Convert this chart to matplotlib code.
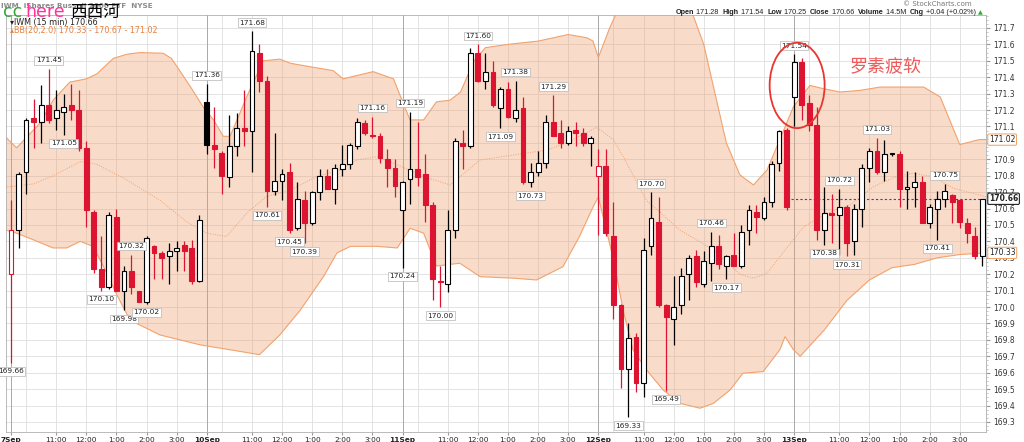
import numpy as np
import matplotlib
matplotlib.use("Agg")
import matplotlib.pyplot as plt
import matplotlib.transforms as mtransforms
from matplotlib.patches import Rectangle, Ellipse
from matplotlib.ticker import MultipleLocator, FuncFormatter

# 15-minute bars, 26 per session, 7 Sep - 13 Sep
opens = [170.20, 170.47, 170.82, 171.15, 171.13, 171.23, 171.15, 171.19, 171.23, 171.20,
         170.97, 170.58, 170.23, 170.12, 170.55, 170.10, 170.22, 170.10, 170.03, 170.37,
         170.33, 170.31, 170.34, 170.38, 170.36, 170.16,
         171.25, 170.99, 170.94, 170.79, 170.98, 171.09, 171.07, 171.55, 171.38, 170.71,
         170.77, 170.82, 170.48, 170.65, 170.51, 170.70, 170.80, 170.72, 170.84, 170.87,
         170.98, 171.12, 171.05, 171.04, 170.90, 170.85,
         170.59, 170.78, 170.84, 170.81, 170.62, 170.16, 170.14, 170.47, 171.00, 170.98,
         171.55, 171.38, 171.43, 171.21, 171.33, 171.15, 171.21, 170.76, 170.82, 170.88,
         171.13, 171.06, 171.00, 171.08, 171.06, 171.00,
         170.80, 170.86, 170.43, 170.01, 169.62, 169.82, 169.54, 170.37, 170.52, 170.01,
         169.93, 170.01, 170.20, 170.31, 170.14, 170.27, 170.37, 170.25, 170.32, 170.25,
         170.47, 170.58, 170.54, 170.64, 170.88, 171.08,
         171.28, 171.49, 171.24, 171.11, 170.47, 170.57, 170.56, 170.61, 170.40, 170.60,
         170.85, 170.95, 170.82, 170.93, 170.93, 170.72, 170.73, 170.76, 170.51, 170.60,
         170.66, 170.68, 170.65, 170.51, 170.43, 170.31]
highs = [170.65, 170.82, 171.15, 171.27, 171.35, 171.45, 171.32, 171.30, 171.36, 171.32,
         171.01, 170.59, 170.43, 170.58, 170.60, 170.25, 170.32, 170.10, 170.43, 170.38,
         170.34, 170.39, 170.40, 170.40, 170.41, 170.56,
         171.36, 171.22, 170.95, 171.17, 171.18, 171.32, 171.68, 171.60, 171.41, 171.06,
         170.84, 170.88, 170.76, 170.71, 170.71, 170.84, 170.84, 170.87, 170.99, 171.00,
         171.15, 171.14, 171.16, 171.06, 170.96, 170.90,
         170.77, 171.19, 171.13, 170.93, 170.64, 170.25, 170.59, 171.03, 171.08, 171.58,
         171.60, 171.55, 171.50, 171.34, 171.37, 171.38, 171.28, 170.88, 170.95, 171.17,
         171.29, 171.14, 171.10, 171.13, 171.09, 171.04,
         170.96, 170.96, 170.64, 170.02, 169.90, 169.84, 170.42, 170.70, 170.67, 170.02,
         170.19, 170.24, 170.32, 170.35, 170.34, 170.46, 170.44, 170.32, 170.45, 170.50,
         170.62, 170.62, 170.67, 170.89, 171.08, 171.09,
         171.54, 171.52, 171.29, 171.22, 170.73, 170.69, 170.72, 170.62, 170.63, 170.87,
         170.97, 171.03, 171.02, 170.94, 170.95, 170.83, 170.82, 170.80, 170.63, 170.71,
         170.75, 170.69, 170.66, 170.54, 170.49, 170.66]
lows = [169.66, 170.36, 170.69, 170.97, 171.00, 171.12, 171.08, 171.05, 171.14, 170.95,
        170.49, 170.21, 170.10, 170.11, 170.10, 169.98, 170.08, 170.03, 170.02, 170.17,
        170.17, 170.14, 170.22, 170.22, 170.14, 170.15,
        170.93, 170.85, 170.69, 170.73, 170.92, 170.98, 170.82, 171.31, 170.61, 170.68,
        170.65, 170.45, 170.47, 170.39, 170.50, 170.65, 170.72, 170.63, 170.80, 170.84,
        170.96, 171.05, 171.03, 170.88, 170.73, 170.67,
        170.24, 170.63, 170.74, 170.52, 170.04, 170.00, 170.09, 170.42, 170.84, 170.97,
        171.37, 171.33, 171.22, 171.09, 171.15, 171.13, 170.75, 170.73, 170.80, 170.85,
        171.04, 170.97, 170.99, 170.98, 170.98, 170.86,
        170.44, 170.43, 169.93, 169.51, 169.33, 169.48, 169.45, 170.32, 170.00, 169.49,
        169.77, 169.96, 170.04, 170.12, 170.12, 170.16, 170.23, 170.17, 170.25, 170.24,
        170.38, 170.45, 170.53, 170.61, 170.83, 170.59,
        171.10, 171.14, 171.07, 170.41, 170.38, 170.39, 170.32, 170.31, 170.32, 170.49,
        170.76, 170.81, 170.77, 170.92, 170.61, 170.60, 170.61, 170.51, 170.48, 170.41,
        170.61, 170.51, 170.48, 170.39, 170.29, 170.25]
closes = [170.47, 170.81, 171.14, 171.13, 171.23, 171.14, 171.20, 171.22, 171.20, 170.97,
          170.59, 170.23, 170.12, 170.56, 170.10, 170.22, 170.12, 170.03, 170.42, 170.33,
          170.30, 170.34, 170.36, 170.34, 170.16, 170.53,
          170.99, 170.96, 170.80, 170.98, 171.09, 171.07, 171.56, 171.38, 170.71, 170.77,
          170.81, 170.47, 170.66, 170.51, 170.70, 170.80, 170.72, 170.85, 170.87, 170.99,
          171.13, 171.06, 171.04, 170.91, 170.85, 170.74,
          170.76, 170.84, 170.79, 170.62, 170.17, 170.15, 170.47, 171.01, 170.98, 171.55,
          171.38, 171.43, 171.23, 171.33, 171.16, 171.20, 170.76, 170.82, 170.88, 171.13,
          171.04, 171.00, 171.07, 171.06, 171.00, 171.03,
          170.86, 170.45, 170.01, 169.62, 169.81, 169.54, 170.35, 170.54, 170.01, 169.94,
          170.00, 170.19, 170.30, 170.15, 170.28, 170.37, 170.26, 170.31, 170.25, 170.46,
          170.59, 170.55, 170.64, 170.87, 171.07, 170.61,
          171.49, 171.23, 171.11, 170.47, 170.57, 170.56, 170.61, 170.39, 170.60, 170.85,
          170.95, 170.82, 170.93, 170.94, 170.72, 170.73, 170.76, 170.51, 170.61, 170.66,
          170.71, 170.64, 170.52, 170.45, 170.31, 170.66]
prev_close0 = 170.55

high_labels = [5, 16, 26, 32, 48, 53, 62, 67, 72, 85, 93, 104, 110, 115, 124]
low_labels = [0, 7, 12, 15, 18, 34, 37, 39, 52, 57, 65, 69, 82, 87, 95, 108, 111, 123]

days = ["7Sep", "10Sep", "11Sep", "12Sep", "13Sep"]
hour_labels = ["", "11:00", "12:00", "1:00", "2:00", "3:00"]
hour_times = [10, 11, 12, 13, 14, 15]
bars_per_day = 26

# Bollinger bands (20, 2.0)
upper_n = [-0.8, 0.75, 3.85, 5.6, 7.8, 10, 11.4, 13.6, 15.4, 17.1, 20.2, 21.3, 22.7, 24, 25.5,
           26.9, 28.2, 29.1, 31.3, 33.5, 35.7, 37.1, 39.7, 42.8, 44.1, 45.9, 48.1, 50.8,
           52.1, 53.0, 54.8, 56.5, 58.3, 59.7, 61.5, 63, 66, 70, 74, 76.5, 77.3, 78, 79.5,
           81, 90, 92, 95, 96.8, 98.6, 100.4, 102.1, 103.9, 106.1, 107.9, 110.1, 112.8,
           115.4, 121.2, 123.4, 125.1, 126, 128.6, 129.6]
upper_v = [171.04, 170.97, 171.12, 171.26, 171.37, 171.39, 171.42, 171.515, 171.54, 171.55,
           171.546, 171.515, 171.42, 171.33, 171.22, 171.14, 171.04, 171.04, 171.28, 171.50,
           171.51, 171.485, 171.464, 171.44, 171.39, 171.41, 171.434, 171.39, 171.24, 171.14,
           171.14, 171.25, 171.26, 171.31, 171.50, 171.58, 171.60, 171.62, 171.66, 171.64,
           171.62, 171.52, 171.70, 171.85, 171.85, 171.6, 171.0, 170.805, 170.744, 170.835,
           171.02, 171.22, 171.35, 171.33, 171.31, 171.32, 171.34, 171.34, 171.28, 171.09,
           170.99, 171.02, 171.02]
mid_n = [-0.8, 3, 5.6, 9.2, 11.4, 15.4, 19.8, 23.3, 26, 28.6, 31.5, 33.9, 37.1, 40.6, 43.7,
         45.9, 48.6, 50.8, 54.8, 58.3, 62.3, 66.7, 71.2, 73.8, 77.8, 80.0, 81.5, 84.4, 88.8,
         93.3, 96.8, 98.6, 100.4, 102.1, 105.3, 108.3, 111.4, 114.5, 117.6, 119.8, 122.4,
         125.1, 128.6, 129.6]
mid_v = [170.73, 170.75, 170.80, 170.886, 170.87, 170.774, 170.65, 170.52, 170.45, 170.43,
         170.58, 170.673, 170.713, 170.795, 170.835, 170.896, 170.916, 170.876, 170.795,
         170.744, 170.896, 170.926, 170.957, 171.0, 171.095, 171.02, 170.90, 170.65, 170.47,
         170.348, 170.20, 170.176, 170.206, 170.307, 170.49, 170.57, 170.622, 170.733,
         170.795, 170.815, 170.795, 170.724, 170.683, 170.67]
lower_n = [-0.8, 0.75, 2.96, 5.6, 7.4, 9.2, 10.9, 12.7, 14.0, 15.8, 19.8, 25.1, 30.4, 33,
           35.7, 38.4, 41.5, 43.3, 45.1, 48.6, 51.3, 53.0, 54.8, 56.5, 59.6, 62.3, 66.7,
           69.8, 73.3, 75.5, 77.3, 78.0, 80.0, 81.3, 82.6, 84.4, 86.6, 88.8, 91.5, 93.3,
           95.5, 97.2, 99.9, 102.1, 102.8, 103.9, 104.8, 108, 111, 114, 117, 120, 123, 126,
           129.6]
lower_v = [170.47, 170.45, 170.41, 170.36, 170.36, 170.40, 170.37, 170.21, 170.08, 169.92,
           169.83, 169.77, 169.73, 169.71, 169.83, 169.98, 170.185, 170.33, 170.37, 170.37,
           170.36, 170.48, 170.45, 170.25, 170.267, 170.185, 170.176, 170.165, 170.246,
           170.43, 170.61, 170.67, 170.29, 169.98, 169.74, 169.617, 169.495, 169.414,
           169.384, 169.414, 169.495, 169.597, 169.607, 169.74, 169.82, 169.74, 169.70,
           169.86, 170.04, 170.165, 170.24, 170.26, 170.30, 170.32, 170.33]

RED = "#dc1432"
ORANGE = "#f2a26c"

fig = plt.figure(figsize=(10.24, 4.42), dpi=100)
ax = fig.add_axes([6 / 1024, 10 / 442, 980 / 1024, 417 / 442])
ax.set_xlim(-0.66, 129.48)
ax.set_ylim(169.239, 171.779)

# grid
for p in np.arange(169.3, 171.75, 0.1):
    ax.axhline(p, color="#dedede", lw=0.6, zorder=0.5)
for d in range(len(days)):
    ax.axvline(d * bars_per_day, color="#a9a9a9", lw=0.7, zorder=0.6)
    for h in hour_times:
        ax.axvline(d * bars_per_day + (h - 9.5) * 4, color="#dedede", lw=0.6, zorder=0.5)

# bands
ax.fill(np.r_[upper_n, lower_n[::-1]], np.r_[upper_v, lower_v[::-1]],
        color="#ee9a66", alpha=0.35, lw=0, zorder=1)
ax.plot(upper_n, upper_v, color=ORANGE, lw=0.8, zorder=1.5)
ax.plot(lower_n, lower_v, color=ORANGE, lw=0.8, zorder=1.5)
ax.plot(mid_n, mid_v, color=ORANGE, lw=0.7, ls=(0, (1, 1.5)), zorder=1.5)

# candles
w = 0.64
for i in range(len(closes)):
    o, h, l, c = opens[i], highs[i], lows[i], closes[i]
    pc = closes[i - 1] if i > 0 else prev_close0
    col = RED if c < pc else "black"
    hollow = c > o
    ax.vlines(i, l, h, color=col, lw=0.9, zorder=3)
    ax.add_patch(Rectangle((i - w / 2, min(o, c)), w, max(abs(c - o), 0.005),
                           fc="white" if hollow else col, ec=col, lw=0.8, zorder=4))

box = dict(boxstyle="square,pad=0.18", fc="white", ec="#b5b5b5", lw=0.5)
for i in high_labels:
    ax.annotate(f"{highs[i]:.2f}", xy=(i, highs[i]), xytext=(0, 4), textcoords="offset points",
                ha="center", va="bottom", fontsize=5.3, color="#222222", bbox=box, zorder=6)
for i in low_labels:
    ax.annotate(f"{lows[i]:.2f}", xy=(i, lows[i]), xytext=(0, -4), textcoords="offset points",
                ha="center", va="top", fontsize=5.3, color="#222222", bbox=box, zorder=6)

# last close line
ax.hlines(closes[-1], 103.6, 129.48, color="#3a3ae0", lw=0.8, ls=(0, (2, 2)), zorder=2.5)

# annotation
ax.add_patch(Ellipse((104.4, 171.35), 7.3, 0.52, fill=False, ec="#e8352e", lw=1.3, zorder=7))
ax.text(116.2, 171.46, "罗素疲软", fontsize=13, color="#f05a5a", ha="center", va="center",
        family=["Noto Sans CJK SC", "DejaVu Sans"], zorder=7)

# axes
box_vals = [upper_v[-1], closes[-1], lower_v[-1]]
ax.yaxis.tick_right()
ax.yaxis.set_major_locator(MultipleLocator(0.1))
ax.yaxis.set_minor_locator(MultipleLocator(0.025))
ax.yaxis.set_major_formatter(FuncFormatter(
    lambda v, pos: "" if abs(v - box_vals[0]) < 0.03 else f"{v:.1f}"))
ax.tick_params(axis="y", which="major", labelsize=5.5, length=3, color="#999999",
               labelcolor="#333333", pad=2)
ax.tick_params(axis="y", which="minor", length=1.5, color="#bbbbbb")

xt, xl = [], []
for d, day in enumerate(days):
    xt.append(d * bars_per_day)
    xl.append(day)
    for h, lab in zip(hour_times, hour_labels):
        if lab:
            xt.append(d * bars_per_day + (h - 9.5) * 4)
            xl.append(lab)
ax.set_xticks(xt, xl)
ax.tick_params(axis="x", labelsize=5.3, length=2, color="#999999", labelcolor="#222222", pad=1.5)
for t in ax.get_xticklabels():
    if t.get_text() in days:
        t.set_fontweight("bold")
for s in ax.spines.values():
    s.set_color("#b0b0b0")
    s.set_linewidth(0.6)

trans = mtransforms.blended_transform_factory(ax.transAxes, ax.transData)
for v, ec, fw in zip(box_vals, ["#f0a060", "black", "#f0a060"], ["normal", "bold", "normal"]):
    ax.text(1.003, v, f"{v:.2f}", transform=trans, ha="left", va="center", fontsize=5.5,
            fontweight=fw, color="#222222", clip_on=False, zorder=10,
            bbox=dict(boxstyle="round,pad=0.15", fc="white", ec=ec, lw=0.7))

# header
def px(x, y):
    return x / 1024, 1 - y / 442

fig.text(*px(1, 6), "IWM  iShares Russell 2000 ETF  NYSE", fontsize=5.2, color="#8a8a8a",
         fontweight="bold", va="center")
fig.text(*px(3, 17), "cc", fontsize=12.5, color="#3aa53a", va="baseline")
fig.text(*px(25, 17), "here", fontsize=12.5, color="#ff3399", va="baseline")
fig.text(*px(70, 17), "西西河", fontsize=12, color="black", va="baseline",
         family=["Noto Sans CJK SC", "DejaVu Sans"])
fig.text(*px(10, 23), "▾IWM (15 min) 170.66", fontsize=5.8, color="#222222", va="center")
fig.text(*px(10, 30), "▴BB(20,2.0) 170.33 - 170.67 - 171.02", fontsize=5.8, color="#e8803a",
         va="center")
fig.text(*px(972, 4), "© StockCharts.com", fontsize=5, color="#777777", ha="right", va="center")

# quote line, right aligned, bold field names
quote = [("Open", "bold"), (" 171.28  ", "normal"), ("High", "bold"), (" 171.54  ", "normal"),
         ("Low", "bold"), (" 170.25  ", "normal"), ("Close", "bold"), (" 170.66  ", "normal"),
         ("Volume", "bold"), (" 14.5M  ", "normal"), ("Chg", "bold"),
         (" +0.04 (+0.02%)", "normal")]
r = fig.canvas.get_renderer()
x_right = 976
for txt, fw in reversed(quote):
    t = fig.text(*px(x_right, 13), txt, fontsize=5.2, fontweight=fw, color="#222222",
                 ha="right", va="center", family="Liberation Sans")
    x_right -= t.get_window_extent(r).width
fig.text(*px(978, 13), "▲", fontsize=4.5, color="#33aa33", ha="left", va="center")

fig.savefig("out.png", dpi=100)
